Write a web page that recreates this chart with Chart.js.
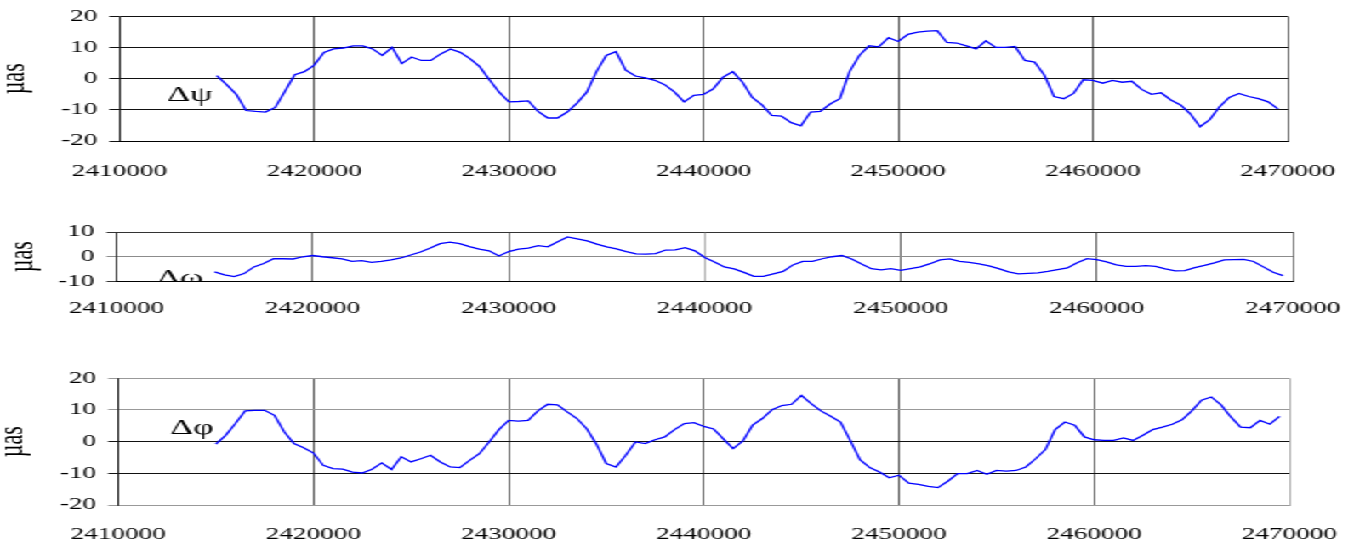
<!DOCTYPE html>
<html>
<head>
<meta charset="utf-8">
<script src="https://cdn.jsdelivr.net/npm/chart.js@4.4.0/dist/chart.umd.min.js"></script>
<style>
  html, body { margin: 0; padding: 0; background: #fff; overflow: hidden; }
  #wrap { position: absolute; left: 0; top: 0; width: 806px; height: 548px; transform: scaleX(1.701); transform-origin: 0 0; }
  canvas { position: absolute; left: 0; }
</style>
</head>
<body>
<div id="wrap">
  <canvas id="c1" width="806" height="190" style="top:0px"></canvas>
  <canvas id="c2" width="806" height="110" style="top:215px"></canvas>
  <canvas id="c3" width="806" height="193" style="top:355px"></canvas>
</div>
<script>
// julian dates, one reading every 500 days
const jd = [
  2415000, 2415500, 2416000, 2416500, 2417000, 2417500, 2418000, 2418500, 2419000, 2419500,
  2420000, 2420500, 2421000, 2421500, 2422000, 2422500, 2423000, 2423500, 2424000, 2424500,
  2425000, 2425500, 2426000, 2426500, 2427000, 2427500, 2428000, 2428500, 2429000, 2429500,
  2430000, 2430500, 2431000, 2431500, 2432000, 2432500, 2433000, 2433500, 2434000, 2434500,
  2435000, 2435500, 2436000, 2436500, 2437000, 2437500, 2438000, 2438500, 2439000, 2439500,
  2440000, 2440500, 2441000, 2441500, 2442000, 2442500, 2443000, 2443500, 2444000, 2444500,
  2445000, 2445500, 2446000, 2446500, 2447000, 2447500, 2448000, 2448500, 2449000, 2449500,
  2450000, 2450500, 2451000, 2451500, 2452000, 2452500, 2453000, 2453500, 2454000, 2454500,
  2455000, 2455500, 2456000, 2456500, 2457000, 2457500, 2458000, 2458500, 2459000, 2459500,
  2460000, 2460500, 2461000, 2461500, 2462000, 2462500, 2463000, 2463500, 2464000, 2464500,
  2465000, 2465500, 2466000, 2466500, 2467000, 2467500, 2468000, 2468500, 2469000, 2469500
];

// Δψ (µas)
const dPsi = [
  1.0, -1.9, -5.0, -10.2, -10.5, -10.7, -9.2, -4.0, 1.3, 2.3,
  4.4, 8.5, 9.6, 9.9, 10.6, 10.6, 9.6, 7.5, 10.1, 4.9,
  7.0, 5.9, 5.9, 8.0, 9.6, 8.5, 6.5, 3.9, -0.3, -4.3,
  -7.4, -7.3, -7.1, -10.5, -12.6, -12.6, -10.7, -7.8, -4.3, 2.3,
  7.5, 8.75, 2.8, 0.9, 0.3, -0.5, -1.9, -4.2, -7.4, -5.3,
  -5.0, -3.2, 0.5, 2.3, -1.1, -6.0, -8.4, -11.8, -12.0, -14.1,
  -15.1, -10.7, -10.5, -8.1, -6.4, 2.3, 7.5, 10.6, 10.3, 13.2,
  12.0, 14.3, 15.0, 15.3, 15.5, 11.7, 11.5, 10.6, 9.6, 12.2,
  10.1, 10.1, 10.4, 5.9, 5.4, 1.25, -5.7, -6.4, -4.7, -0.3,
  -0.5, -1.4, -0.5, -1.1, -0.8, -3.4, -5.0, -4.5, -6.8, -8.4,
  -11.25, -15.4, -13.1, -9.0, -6.0, -4.7, -5.7, -6.4, -7.4, -9.7
];

// Δω (µas)
const dOmega = [
  -6.1, -7.3, -8.0, -6.8, -4.1, -2.7, -0.8, -0.8, -0.9, 0,
  0.5, 0, -0.4, -0.9, -1.9, -1.6, -2.3, -1.9, -1.3, -0.5,
  0.7, 1.9, 3.5, 5.3, 5.9, 5.3, 4.1, 3.1, 2.4, 0.3,
  2.1, 3.1, 3.5, 4.5, 4.0, 6.1, 8.0, 7.2, 6.4, 5.1,
  4.0, 3.2, 2.1, 1.2, 1.1, 1.3, 2.7, 2.8, 3.7, 2.4,
  -0.3, -2.1, -4.1, -4.9, -6.3, -7.9, -7.9, -6.9, -5.9, -3.3,
  -1.9, -1.9, -0.8, 0, 0.5, -0.9, -2.9, -4.8, -5.3, -4.8,
  -5.5, -4.8, -4.1, -2.8, -1.3, -0.9, -1.9, -2.3, -2.9, -3.7,
  -4.8, -6.1, -6.9, -6.7, -6.5, -5.9, -5.2, -4.5, -2.4, -0.8,
  -1.2, -2.1, -3.3, -3.9, -3.9, -3.6, -3.9, -4.9, -5.7, -5.6,
  -4.4, -3.5, -2.5, -1.3, -1.2, -1.1, -1.9, -4.1, -6.3, -7.6
];

// Δφ (µas)
const dPhi = [
  -0.8, 2.0, 5.7, 9.7, 9.9, 9.9, 8.3, 3.1, -0.6, -1.9,
  -3.6, -7.5, -8.5, -8.7, -9.6, -9.9, -8.7, -6.7, -8.8, -4.8,
  -6.4, -5.4, -4.3, -6.4, -8.0, -8.2, -5.9, -3.8, -0.1, 3.8,
  6.7, 6.5, 6.7, 9.7, 11.8, 11.6, 9.4, 7.3, 4.1, -0.8,
  -6.9, -8.0, -4.3, -0.1, -0.6, 0.6, 1.5, 3.8, 5.7, 6.0,
  4.8, 4.0, 0.9, -2.2, 0.2, 5.2, 7.3, 10.1, 11.4, 11.8,
  14.6, 12.0, 9.7, 8.0, 6.2, 0.4, -5.7, -8.2, -9.6, -11.4,
  -10.6, -13.1, -13.5, -14.1, -14.5, -12.5, -10.1, -10.1, -9.1, -10.3,
  -9.1, -9.3, -9.1, -8.0, -5.4, -2.5, 3.8, 6.2, 5.2, 1.5,
  0.6, 0.4, 0.4, 1.2, 0.4, 2.0, 3.8, 4.6, 5.5, 6.9,
  9.7, 13.1, 14.1, 11.6, 7.8, 4.6, 4.4, 6.7, 5.5, 8.0
];

const xTicks = [2410000, 2420000, 2430000, 2440000, 2450000, 2460000, 2470000];
const yTicksWide = [-20, -10, 0, 10, 20];
const yTicksNarrow = [-10, 0, 10];

const S = 1.701; // page is drawn narrow and stretched sideways
const serif = "'Liberation Serif', 'Times New Roman', serif";

// Greek name written inside each panel
const deltaLabel = {
  id: 'deltaLabel',
  afterDatasetsDraw(chart, args, o) {
    const { ctx, chartArea, scales } = chart;
    ctx.save();
    ctx.beginPath();
    ctx.rect(0, 0, chart.width, chartArea.bottom);
    ctx.clip();
    ctx.font = '21px ' + serif;
    ctx.fillStyle = '#000';
    ctx.textBaseline = 'alphabetic';
    ctx.fillText(o.text, scales.x.getPixelForValue(o.x), scales.y.getPixelForValue(o.y));
    ctx.restore();
  }
};

function panel(id, top, box, yTicks, values, label, opt) {
  const cv = document.getElementById(id);
  const H = cv.height;
  const left = box.left / S, right = box.right / S;
  return new Chart(cv, {
    type: 'line',
    data: {
      datasets: [{
        data: jd.map((x, i) => ({ x: x, y: values[i] })),
        borderColor: '#0000ff',
        borderWidth: 1.3,
        pointRadius: 0,
        tension: 0,
        fill: false
      }]
    },
    options: {
      responsive: false,
      animation: false,
      events: [],
      layout: { padding: { left: 0, top: box.top - top, right: cv.width - right, bottom: 0 } },
      plugins: { legend: { display: false }, tooltip: { enabled: false }, deltaLabel: label },
      scales: {
        x: {
          type: 'linear',
          min: xTicks[0],
          max: xTicks[xTicks.length - 1],
          afterBuildTicks: s => { s.ticks = xTicks.map(v => ({ value: v })); },
          afterFit: s => { s.height = H - (box.bottom - top); },
          ticks: {
            autoSkip: false, maxRotation: 0, padding: opt.xPad, color: '#000',
            font: { family: serif, size: 16 },
            callback: v => String(v)
          },
          grid: { drawTicks: false, color: opt.vColor, lineWidth: 0.65 },
          border: { color: opt.bottomColor }
        },
        y: {
          min: yTicks[0],
          max: yTicks[yTicks.length - 1],
          afterBuildTicks: s => { s.ticks = yTicks.map(v => ({ value: v })); },
          afterFit: s => { s.width = left; },
          ticks: { padding: 7, color: '#000', font: { family: serif, size: 16 } },
          grid: { tickLength: 6, color: opt.hColor },
          border: { color: '#000', width: 0.65 },
          title: {
            display: true, text: 'µas', color: '#000',
            font: { family: serif, size: 22, lineHeight: 0.6 },
            padding: { top: opt.titlePad, bottom: 0 }
          }
        }
      }
    },
    plugins: [deltaLabel]
  });
}

panel('c1', 0, { left: 119.5, right: 1294.5, top: 13.3, bottom: 141 }, yTicksWide, dPsi,
  { text: 'Δψ', x: 2412450, y: -7.2 },
  { xPad: 21, titlePad: 2, vColor: '#000', hColor: '#111', bottomColor: '#000' });

panel('c2', 215, { left: 116.7, right: 1300, top: 232, bottom: 281.5 }, yTicksNarrow, dOmega,
  { text: 'Δω', x: 2412050, y: -11.2 },
  {
    xPad: 18, titlePad: 6.2,
    vColor: c => (c.tick && c.tick.value === 2440000 ? '#888' : '#222'),
    hColor: c => (c.tick && c.tick.value === 0 ? '#8c8c8c' : '#333'),
    bottomColor: '#000'
  });

panel('c3', 355, { left: 118.3, right: 1305, top: 378.3, bottom: 505 }, yTicksWide, dPhi,
  { text: 'Δφ', x: 2412650, y: 2.5 },
  {
    xPad: 20, titlePad: 0.4,
    vColor: c => (c.tick && c.tick.value === 2470000 ? '#888' : '#000'),
    hColor: c => (c.tick && (c.tick.value === 0 || c.tick.value === -10) ? '#111' : '#999'),
    bottomColor: '#999'
  });
</script>
</body>
</html>
